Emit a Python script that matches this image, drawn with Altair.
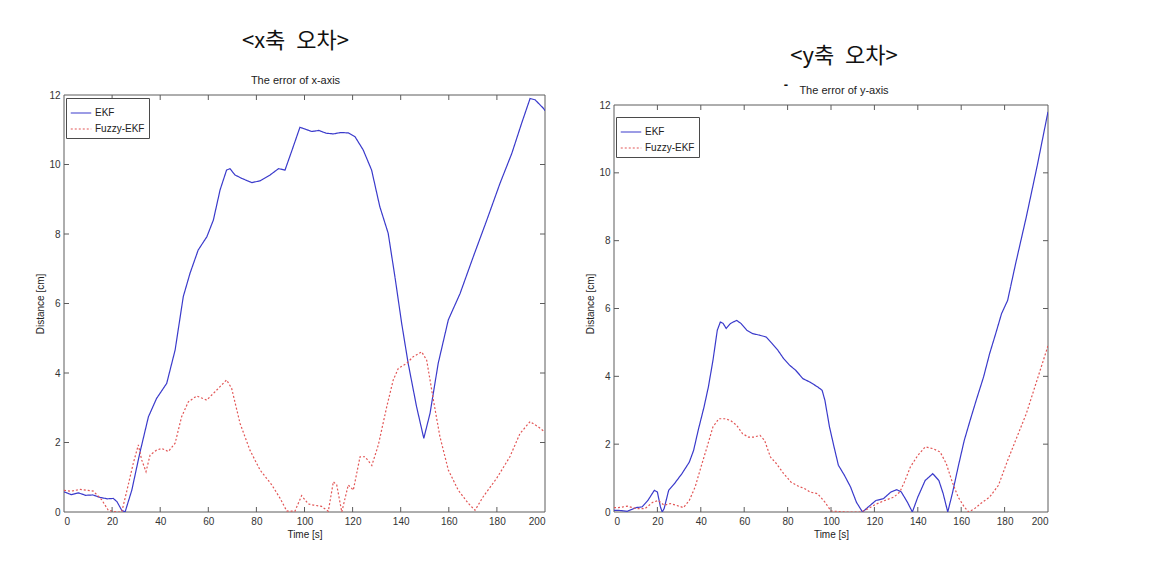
import altair as alt
import pandas as pd

# ---------------- data ----------------
# Left panel: error of x-axis
x_ekf_t = [0, 3, 6, 9, 12, 15, 18, 20.5, 22, 24, 25.4, 28.2, 31.5, 35.1, 38.5, 42.7, 46.2, 49.6, 52.4, 55.8,
           59.4, 62.1, 64.9, 67.6, 69, 71.1, 73.9, 78.1, 81.5, 85.7, 89.2, 91.9, 94.6, 98.1, 100.2, 103, 106,
           109, 112, 115, 118.2, 121, 124.4, 127.9, 131.3, 134.8, 137.6, 140.4, 143.1, 146.6, 149.6, 152.2,
           155.6, 159.8, 164.7, 170.2, 175.8, 181.3, 186.2, 190.3, 193.8, 195.9, 199.3, 200]
x_ekf_v = [0.58, 0.5, 0.55, 0.48, 0.49, 0.42, 0.38, 0.39, 0.3, 0.05, 0.0, 0.63, 1.69, 2.74, 3.27, 3.7, 4.66,
           6.2, 6.87, 7.54, 7.92, 8.4, 9.27, 9.84, 9.88, 9.7, 9.6, 9.48, 9.53, 9.7, 9.88, 9.84, 10.37, 11.07,
           11.02, 10.95, 10.98, 10.9, 10.88, 10.92, 10.91, 10.8, 10.42, 9.84, 8.79, 8.02, 6.77, 5.43, 4.28,
           3.03, 2.12, 2.84, 4.28, 5.53, 6.29, 7.35, 8.4, 9.46, 10.32, 11.19, 11.9, 11.86, 11.62, 11.55]
x_fz_t = [0, 3, 6.7, 10, 12.2, 15.7, 18.4, 21.9, 24, 26.1, 28.8, 30.9, 32.3, 34.1, 35.8, 38.5, 40.6, 43.4,
          46.2, 48.9, 51.7, 55.2, 59.3, 62.8, 67.6, 69.7, 73.2, 77.3, 81.5, 86.4, 89.8, 92.6, 96, 98.8, 101.6,
          103.7, 107.1, 109.9, 112, 113.4, 115.5, 118.2, 120.3, 123.1, 125.2, 128, 130.7, 134.2, 136.9, 139,
          142.5, 145.2, 148.7, 150.8, 153.6, 156.3, 159.8, 163.9, 168.1, 170.9, 174.3, 179.9, 185.4, 189.6,
          193.8, 197.2, 200]
x_fz_v = [0.62, 0.6, 0.65, 0.62, 0.6, 0.35, 0.05, 0.0, 0.0, 0.6, 1.4, 1.93, 1.5, 1.16, 1.64, 1.78, 1.83, 1.74,
          1.98, 2.74, 3.17, 3.34, 3.22, 3.46, 3.8, 3.56, 2.55, 1.78, 1.21, 0.78, 0.4, 0.03, 0.02, 0.47, 0.23,
          0.2, 0.16, 0.02, 0.87, 0.78, 0.0, 0.78, 0.63, 1.59, 1.59, 1.34, 1.93, 3.03, 3.8, 4.13, 4.28, 4.47,
          4.61, 4.37, 3.22, 2.17, 1.21, 0.63, 0.25, 0.05, 0.44, 0.97, 1.59, 2.26, 2.6, 2.45, 2.3]

# Right panel: error of y-axis
y_ekf_t = [0, 2, 6.1, 10.2, 12.9, 15.6, 18.6, 20, 21.4, 22.2, 23.1, 25.2, 27.9, 31.3, 34.7, 36.7, 38.8, 41.5,
           43.5, 45.6, 47.6, 49, 50.3, 51.7, 53.7, 56.5, 58.5, 61.2, 63.9, 67.3, 70.1, 72.8, 75.5, 78.2, 80.9,
           83.7, 87.1, 90.3, 93.8, 95.9, 97.2, 99.3, 101.4, 103.4, 106.2, 109, 111.7, 114.5, 117.2, 120.7,
           124.1, 127.6, 130.3, 132.4, 135.2, 137.5, 140, 143.4, 146.9, 149.7, 151.7, 153.8, 155.9, 158.6,
           161.4, 164.1, 166.9, 170.3, 173.1, 175.9, 178.6, 181.4, 185, 190, 195, 200]
y_ekf_v = [0.05, 0.05, 0.02, 0.13, 0.15, 0.34, 0.64, 0.59, 0.15, 0.0, 0.1, 0.64, 0.84, 1.13, 1.47, 1.82, 2.41,
           3.1, 3.69, 4.47, 5.36, 5.6, 5.56, 5.41, 5.56, 5.65, 5.56, 5.36, 5.26, 5.21, 5.16, 4.97, 4.77, 4.52,
           4.33, 4.18, 3.93, 3.83, 3.69, 3.59, 3.29, 2.51, 1.92, 1.38, 1.08, 0.74, 0.29, 0.0, 0.15, 0.34, 0.39,
           0.59, 0.66, 0.59, 0.29, 0.0, 0.44, 0.93, 1.13, 0.93, 0.54, 0.0, 0.54, 1.33, 2.11, 2.7, 3.29, 3.98,
           4.67, 5.26, 5.85, 6.24, 7.3, 8.7, 10.2, 11.8]
y_fz_t = [0, 2, 6.1, 10.2, 14.3, 17.7, 20.4, 23.1, 25.9, 28.6, 32, 34.7, 37.4, 40.1, 42.9, 45.6, 48.3, 51,
          53.7, 56.5, 59.2, 61.9, 64.6, 67.3, 69.4, 72.1, 74.8, 78.2, 81.6, 85, 87.8, 90.3, 93.8, 97.2, 100,
          106.9, 113.8, 117.2, 120.7, 124.8, 129, 131.7, 133.8, 136.6, 140, 143.4, 146.9, 150.3, 153.1, 155.9,
          158.6, 161.4, 163.4, 166.2, 169, 173.1, 177.2, 181.4, 185, 190, 195, 200]
y_fz_v = [0.13, 0.13, 0.17, 0.1, 0.1, 0.28, 0.34, 0.2, 0.25, 0.2, 0.13, 0.34, 0.74, 1.33, 1.92, 2.51, 2.75,
          2.75, 2.7, 2.56, 2.31, 2.21, 2.21, 2.26, 2.11, 1.62, 1.43, 1.13, 0.88, 0.76, 0.69, 0.59, 0.54, 0.29,
          0.03, 0.0, 0.0, 0.1, 0.23, 0.34, 0.44, 0.59, 0.88, 1.33, 1.67, 1.92, 1.87, 1.77, 1.43, 0.88, 0.44,
          0.15, 0.0, 0.1, 0.25, 0.44, 0.79, 1.52, 2.1, 2.9, 3.9, 4.9]

series_names = ["EKF", "Fuzzy-EKF"]
x_tick_values = [0, 20, 40, 60, 80, 100, 120, 140, 160, 180, 200]
y_tick_values = [0, 2, 4, 6, 8, 10, 12]
x_range = [0, 200]
y_range = [0, 12]

# ---------------- style ----------------
BLUE = "#3a3acb"
RED = "#e25656"
FRAME = "#5c5c5c"
FONT = "Liberation Sans Narrow, Liberation Sans, Arial, sans-serif"
KFONT = "Noto Sans CJK KR"


def panel(et, ev, ft, fv, W, H, top_gap, title_text, subtitle, dx, sub_pad, offset, legend_y, dash=None):
    """H is the group height; the framed plot area starts top_gap px below the group top."""
    df = pd.concat([
        pd.DataFrame({"t": et, "v": ev, "series": series_names[0]}),
        pd.DataFrame({"t": ft, "v": fv, "series": series_names[1]}),
    ], ignore_index=True)
    frame_h = H - top_gap
    y_top = y_range[1] * H / frame_h
    xs = alt.Scale(domain=x_range, nice=False, zero=False)
    ys = alt.Scale(domain=[y_range[0], y_top], nice=False, zero=False)
    xenc = alt.X("t:Q", scale=xs, title="Time [s]", axis=alt.Axis(values=x_tick_values, format="d"))
    yenc = alt.Y("v:Q", scale=ys, title="Distance [cm]", axis=alt.Axis(values=y_tick_values, format="d"))
    xsimple = alt.X("t:Q", scale=xs, title="Time [s]")
    ysimple = alt.Y("v:Q", scale=ys, title="Distance [cm]")

    frame_df = pd.DataFrame({"t": [x_range[0]], "t2": [x_range[1]], "v": [y_range[0]], "v2": [y_range[1]]})
    frame = alt.Chart(frame_df).mark_rect(fillOpacity=0, stroke=FRAME, strokeWidth=1).encode(
        x=xsimple, x2="t2:Q", y=ysimple, y2="v2:Q")

    leg = alt.Legend(title=None, orient="none", legendX=2, legendY=legend_y, direction="vertical",
                     strokeColor="#4a4a4a", fillColor="white", padding=4, symbolType="stroke",
                     symbolSize=420, symbolStrokeWidth=1.2, labelFont=FONT, labelFontSize=10,
                     labelColor="#222", rowPadding=0, labelOffset=3, cornerRadius=0)
    lines = alt.Chart(df).mark_line(strokeWidth=1.2, clip=True).encode(
        x=xenc, y=yenc,
        color=alt.Color("series:N", scale=alt.Scale(domain=series_names, range=[BLUE, RED]), legend=leg),
        strokeDash=alt.StrokeDash("series:N", scale=alt.Scale(domain=series_names, range=[[1, 0], [2, 2]]),
                                  legend=leg),
    )
    xt = pd.DataFrame({"t": x_tick_values[1:-1]})
    yt = pd.DataFrame({"v": y_tick_values[1:-1]})
    tick_bot = alt.Chart(xt).mark_rule(color=FRAME).encode(x=xsimple, y=alt.value(H), y2=alt.value(H - 5))
    tick_top = alt.Chart(xt).mark_rule(color=FRAME).encode(x=xsimple, y=alt.value(top_gap),
                                                           y2=alt.value(top_gap + 5))
    tick_l = alt.Chart(yt).mark_rule(color=FRAME).encode(y=ysimple, x=alt.value(0), x2=alt.value(5))
    tick_r = alt.Chart(yt).mark_rule(color=FRAME).encode(y=ysimple, x=alt.value(W), x2=alt.value(W - 5))
    layers = [frame, lines, tick_bot, tick_top, tick_l, tick_r]
    if dash is not None:
        layers.append(
            alt.Chart(pd.DataFrame({"s": [dash[0]]})).mark_text(
                font=FONT, fontSize=13, fontWeight="bold", color="#111", baseline="middle"
            ).encode(text="s:N", x=alt.value(dash[1]), y=alt.value(dash[2]))
        )
    tp = dict(text=title_text, subtitle=subtitle, font=KFONT, fontSize=22, fontWeight="normal",
              color="#111", subtitleFont=FONT, subtitleFontSize=11, subtitleColor="#222",
              subtitlePadding=sub_pad, offset=offset, dx=dx, anchor="middle", frame="group")
    return alt.layer(*layers).properties(width=W, height=H, title=alt.TitleParams(**tp))


left = panel(x_ekf_t, x_ekf_v, x_fz_t, x_fz_v, 481, 417, 0, "<x축\u2002오차>", "The error of x-axis",
             dx=-9, sub_pad=22, offset=3, legend_y=3)
right = panel(y_ekf_t, y_ekf_v, y_fz_t, y_fz_v, 434, 417, 10, "<y축\u2002오차>", "The error of y-axis",
              dx=13, sub_pad=17, offset=-18, legend_y=22, dash=("-", 172, -10))

chart = alt.hconcat(left, right, spacing=39).resolve_scale(
    color="independent", strokeDash="independent"
).resolve_legend(
    color="independent", strokeDash="independent"
).properties(
    padding={"left": 35, "top": 30, "right": 5, "bottom": 5},
    background="white",
).configure_view(
    stroke=None
).configure_axis(
    ticks=False, domain=False, grid=False,
    labelFont=FONT, labelFontSize=10, labelColor="#333", labelPadding=4,
    titleFont=FONT, titleFontSize=10, titleFontWeight="normal", titleColor="#222", titlePadding=3,
)

chart.save("out.html", embed_options={"renderer": "svg", "actions": False})
